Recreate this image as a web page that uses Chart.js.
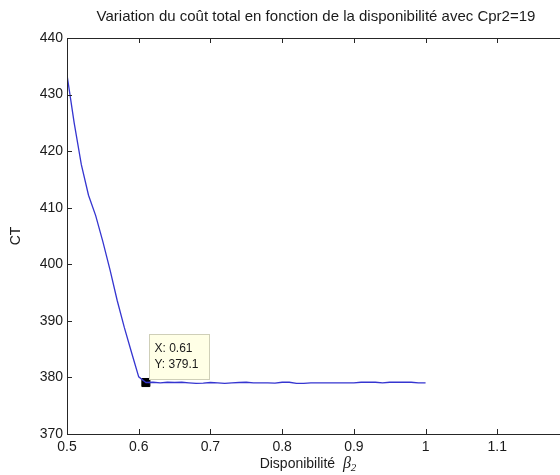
<!DOCTYPE html>
<html>
<head>
<meta charset="utf-8">
<script src="https://cdn.jsdelivr.net/npm/chart.js@4"></script>
<style>
  html, body { margin: 0; padding: 0; background: #fff; overflow: hidden; }
</style>
</head>
<body>
<canvas id="chart" width="600" height="475"></canvas>
<script>
// availability beta2 (x) and total cost CT (y)
const beta2 = [0.50, 0.51, 0.52, 0.53, 0.54, 0.55, 0.56, 0.57, 0.58, 0.59,
  0.60, 0.61, 0.62, 0.63, 0.64, 0.65, 0.66, 0.67, 0.68, 0.69,
  0.70, 0.71, 0.72, 0.73, 0.74, 0.75, 0.76, 0.77, 0.78, 0.79,
  0.80, 0.81, 0.82, 0.83, 0.84, 0.85, 0.86, 0.87, 0.88, 0.89,
  0.90, 0.91, 0.92, 0.93, 0.94, 0.95, 0.96, 0.97, 0.98, 0.99, 1.00];
const coutTotal = [433.5, 425.0, 417.6, 412.2, 408.6, 404.0, 399.0, 393.6, 388.8, 384.4,
  380.1, 379.1, 379.15, 379.05, 379.15, 379.1, 379.15, 379.05, 378.95, 379.0,
  379.1, 379.05, 378.95, 379.05, 379.1, 379.15, 379.05, 379.05, 379.05, 379.0,
  379.15, 379.15, 378.95, 378.95, 379.05, 379.05, 379.05, 379.05, 379.05, 379.05,
  379.05, 379.15, 379.15, 379.15, 379.05, 379.15, 379.15, 379.15, 379.15, 379.05, 379.05];

const xRange = [0.5, 1.2];
const yRange = [370, 440];

// data tip
const tipX = 0.61;
const tipY = 379.1;

const titleText = 'Variation du coût total en fonction de la disponibilité avec Cpr2=19';
const xLabel = 'Disponibilité';
const yLabel = 'CT';

const font = "'Liberation Sans', Arial, sans-serif";
const axisColor = '#262626';

const matlabAxes = {
  id: 'matlabAxes',
  afterDatasetsDraw(chart) {
    const ctx = chart.ctx;
    const a = chart.chartArea;
    const xs = chart.scales.x;
    const ys = chart.scales.y;
    ctx.save();
    ctx.strokeStyle = axisColor;
    ctx.lineWidth = 1;
    ctx.beginPath();
    ctx.rect(Math.round(a.left) + 0.5, Math.round(a.top) + 0.5,
      Math.round(a.right - a.left), Math.round(a.bottom - a.top));
    // inward ticks
    xs.ticks.forEach(t => {
      const p = Math.round(xs.getPixelForValue(t.value)) + 0.5;
      ctx.moveTo(p, a.bottom); ctx.lineTo(p, a.bottom - 5);
      ctx.moveTo(p, a.top); ctx.lineTo(p, a.top + 5);
    });
    ys.ticks.forEach(t => {
      const p = Math.round(ys.getPixelForValue(t.value)) + 0.5;
      ctx.moveTo(a.left, p); ctx.lineTo(a.left + 5, p);
      ctx.moveTo(a.right, p); ctx.lineTo(a.right - 5, p);
    });
    ctx.stroke();

    // title
    const cx = (a.left + a.right) / 2;
    ctx.fillStyle = '#1a1a1a';
    ctx.textAlign = 'center';
    ctx.textBaseline = 'middle';
    ctx.font = '15px ' + font;
    ctx.fillText(titleText, cx - 2, 17);

    // x label with beta_2
    ctx.font = '14px ' + font;
    const w1 = ctx.measureText(xLabel + '  ').width;
    ctx.font = 'italic 16px "Liberation Serif", serif';
    const w2 = ctx.measureText('β').width;
    ctx.font = 'italic 11px "Liberation Serif", serif';
    const w3 = ctx.measureText('2').width;
    let x0 = cx - 10 - (w1 + w2 + w3) / 2;
    ctx.textAlign = 'left';
    ctx.textBaseline = 'alphabetic';
    ctx.font = '14px ' + font;
    ctx.fillText(xLabel + '  ', x0, 468);
    ctx.font = 'italic 16px "Liberation Serif", serif';
    ctx.fillText('β', x0 + w1, 468);
    ctx.font = 'italic 11px "Liberation Serif", serif';
    ctx.fillText('2', x0 + w1 + w2, 471);

    // y label
    ctx.save();
    ctx.translate(16, (a.top + a.bottom) / 2);
    ctx.rotate(-Math.PI / 2);
    ctx.textAlign = 'center';
    ctx.textBaseline = 'middle';
    ctx.font = '14px ' + font;
    ctx.fillText(yLabel, 0, 0);
    ctx.restore();

    // data tip box
    const px = xs.getPixelForValue(tipX);
    const py = ys.getPixelForValue(tipY);
    const bx = Math.round(px + 3) + 0.5;
    const by = Math.round(py - 49) + 0.5;
    ctx.fillStyle = '#ffffe6';
    ctx.strokeStyle = '#cfcfb8';
    ctx.fillRect(bx, by, 60, 45);
    ctx.strokeRect(bx, by, 60, 45);
    ctx.fillStyle = '#1a1a1a';
    ctx.textAlign = 'left';
    ctx.textBaseline = 'middle';
    ctx.font = '12px ' + font;
    ctx.fillText('X: ' + tipX, bx + 5, by + 14);
    ctx.fillText('Y: ' + tipY, bx + 5, by + 30);
    ctx.restore();
  }
};

const points = beta2.map((x, i) => ({ x: x, y: coutTotal[i] }));

new Chart(document.getElementById('chart'), {
  type: 'scatter',
  data: {
    datasets: [
      {
        data: points,
        showLine: true,
        borderColor: '#3535d0',
        borderWidth: 1.3,
        pointRadius: 0,
        tension: 0
      },
      {
        data: [{ x: tipX, y: tipY }],
        pointStyle: 'rect',
        pointRadius: 5.7,
        backgroundColor: '#000',
        borderColor: '#000',
        borderWidth: 1
      }
    ]
  },
  options: {
    responsive: false,
    animation: false,
    layout: { padding: { top: 38, right: 31, left: 0, bottom: 0 } },
    plugins: {
      legend: { display: false },
      tooltip: { enabled: false }
    },
    scales: {
      x: {
        type: 'linear',
        min: xRange[0],
        max: xRange[1],
        ticks: {
          stepSize: 0.1,
          color: '#1a1a1a',
          font: { family: font, size: 14 },
          padding: 5,
          maxRotation: 0,
          callback: v => String(Number(v.toFixed(2)))
        },
        grid: { display: false, drawTicks: false },
        border: { display: false },
        afterFit: s => { s.height = 41; }
      },
      y: {
        min: yRange[0],
        max: yRange[1],
        ticks: {
          stepSize: 10,
          color: '#1a1a1a',
          font: { family: font, size: 14 },
          padding: 4
        },
        grid: { display: false, drawTicks: false },
        border: { display: false },
        afterFit: s => { s.width = 67; }
      }
    }
  },
  plugins: [matlabAxes]
});
</script>
</body>
</html>
